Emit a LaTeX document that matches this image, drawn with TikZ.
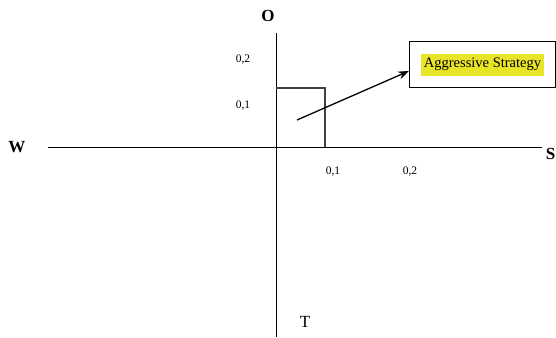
\documentclass[tikz,border=0pt]{standalone}
\usepackage{fontspec}
\setmainfont{Liberation Serif}
\usetikzlibrary{arrows.meta}

\begin{document}
\begin{tikzpicture}[x=1pt,y=-1pt,
  axis/.style={line width=0.9pt},
  region/.style={draw=black!75,line width=1.3pt},
  tick/.style={font=\fontsize{11.5}{13}\selectfont,inner sep=0pt},
  pole/.style={font=\fontsize{17}{20}\selectfont,inner sep=0pt},
  label/.style={draw,line width=1pt,minimum width=146pt,minimum height=46pt,
    inner sep=0pt,font=\fontsize{14.5}{16}\selectfont},
  pointer/.style={-{Stealth[length=3.8mm,width=2.8mm]},line width=1.3pt}
]
  \useasboundingbox (0,0) rectangle (556,337);

  % axes
  \coordinate (wend) at (48,147);
  \coordinate (send) at (542,147);
  \coordinate (oend) at (276,33);
  \coordinate (tend) at (276,337);
  \draw[axis] (wend) -- (send);
  \draw[axis] (oend) -- (tend);

  \node[pole,font=\fontsize{17}{20}\selectfont\bfseries] (west) at (17,147) {W};
  \node[pole,font=\fontsize{17}{20}\selectfont\bfseries,anchor=east] (south) at (555.5,154) {S};
  \node[pole,font=\fontsize{17}{20}\selectfont\bfseries] (north) at (268,16) {O};
  \node[pole] (east) at (305,322) {T};

  % scale values
  \node[tick] (y2) at (243,60) {0,2};
  \node[tick] (y1) at (243,106) {0,1};
  \node[tick] (x1) at (333,172) {0,1};
  \node[tick] (x2) at (410,172) {0,2};

  % strategy square
  \coordinate (ctop) at (276,88);
  \coordinate (ccorner) at (325,88);
  \coordinate (cfoot) at (325,147);
  \draw[region] (ctop) -- (ccorner) -- (cfoot);

  % label box
  \node[label,anchor=north west] (aggr) at (409,41)
    {\colorbox[RGB]{232,228,40}{\strut Aggressive Strategy}};
  \coordinate (start) at (297,120);
  \draw[pointer] (start) -- (aggr.west |- 0,71);
\end{tikzpicture}
\end{document}
